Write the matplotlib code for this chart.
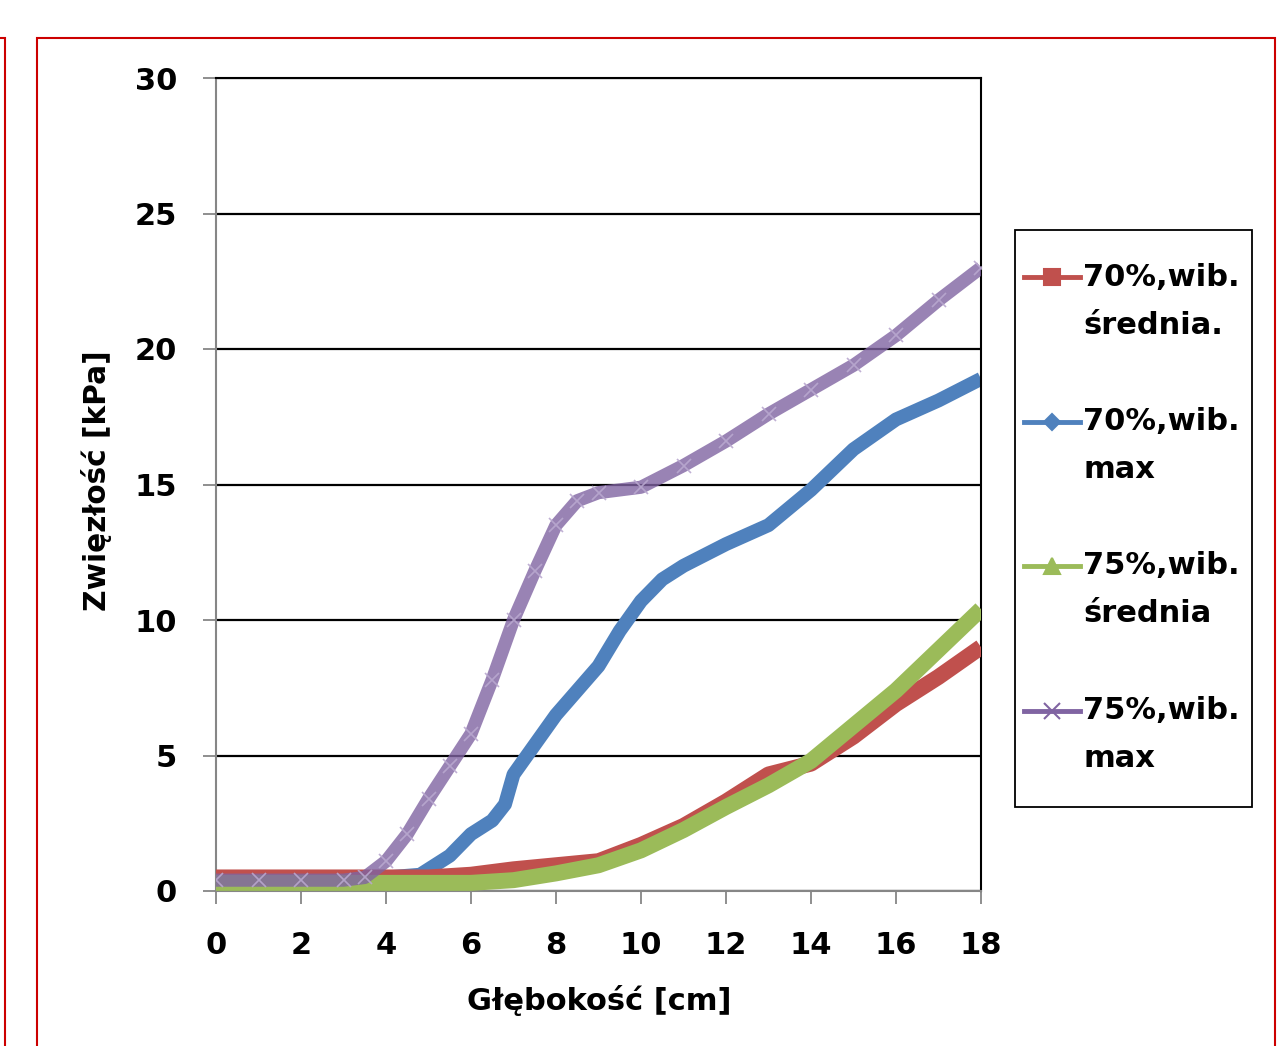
import matplotlib.pyplot as plt
from matplotlib.lines import Line2D
from matplotlib.patches import Rectangle

# === DONNÉES ===
depth_red = [0, 1, 2, 3, 4, 5, 6, 7, 8, 9, 10, 11, 12, 13, 14, 15, 16, 17, 18]
red = [0.5, 0.5, 0.5, 0.5, 0.5, 0.5, 0.6, 0.8, 0.95, 1.1, 1.7, 2.4, 3.3, 4.3, 4.7, 5.7, 6.9, 7.9, 9.0]

depth_blue = [0, 1, 2, 3, 4, 4.8, 5, 5.5, 6, 6.5, 6.8, 7, 7.5, 8, 8.5, 9, 9.5, 10, 10.5, 11, 12, 13, 14, 15, 16, 17, 18]
blue = [0.5, 0.5, 0.5, 0.5, 0.5, 0.6, 0.8, 1.3, 2.1, 2.6, 3.2, 4.3, 5.4, 6.5, 7.4, 8.3, 9.6, 10.7, 11.5, 12.0, 12.8, 13.5, 14.8, 16.3, 17.4, 18.1, 18.9]

depth_green = [0, 1, 2, 3, 4, 5, 6, 7, 8, 9, 10, 11, 12, 13, 14, 15, 16, 17, 18]
green = [0.3, 0.3, 0.3, 0.3, 0.3, 0.3, 0.3, 0.4, 0.65, 0.95, 1.5, 2.25, 3.1, 3.9, 4.8, 6.1, 7.4, 8.9, 10.4]

depth_purple = [0, 1, 2, 3, 3.5, 4, 4.5, 5, 5.5, 6, 6.5, 7, 7.5, 8, 8.5, 9, 10, 11, 12, 13, 14, 15, 16, 17, 18]
purple = [0.4, 0.4, 0.4, 0.4, 0.5, 1.1, 2.1, 3.4, 4.6, 5.8, 7.8, 10.0, 11.8, 13.5, 14.4, 14.7, 14.9, 15.7, 16.6, 17.6, 18.5, 19.4, 20.5, 21.8, 23.0]

labels = ["70%,wib.\nśrednia.", "70%,wib.\nmax", "75%,wib.\nśrednia", "75%,wib.\nmax"]
colors = ["#C0504D", "#4F81BD", "#9BBB59", "#8064A2"]
markers = ['s', 'D', '^', 'x']

plt.rcParams['font.family'] = ['DejaVu Sans']
plt.rcParams['font.weight'] = 'bold'

W, H = 1277, 1046
fig = plt.figure(figsize=(W / 100, H / 100), dpi=100)
ax = fig.add_axes([216/W, 1 - 891/H, 765/W, 813/H])

# === COURBES ===
ax.plot(depth_red, red, color=colors[0], lw=11.5, solid_capstyle='butt', zorder=3)
ax.plot(depth_blue, blue, color=colors[1], lw=10, solid_capstyle='butt', zorder=2)
ax.plot(depth_green, green, color=colors[2], lw=11.5, solid_capstyle='butt', zorder=4)
ax.plot(depth_purple, purple, color=colors[3], lw=9.5, alpha=0.8, solid_capstyle='butt', zorder=5)
ax.plot(depth_purple, purple, color='#B9A8CF', lw=0, marker='x', ms=10, mew=1.2, alpha=0.9, zorder=6)

# === AXES ===
ax.set_xlim(0, 18)
ax.set_ylim(0, 30)
ax.set_xticks(range(0, 19, 2))
ax.set_yticks(range(0, 31, 5))
ax.grid(axis='y', color='black', lw=1.6)
ax.set_axisbelow(True)
ax.tick_params(direction='out', length=9.5, width=1.3, color='#868686', labelsize=22)
ax.tick_params(axis='x', pad=19)
ax.tick_params(axis='y', pad=18.5)
for s in ['left', 'bottom']:
    ax.spines[s].set_color('#868686')
    ax.spines[s].set_linewidth(1.5)
for s in ['top', 'right']:
    ax.spines[s].set_color('black')
    ax.spines[s].set_linewidth(1.5)

fig.text(599/W, 1 - 1000/H, "Głębokość [cm]", ha='center', va='center', fontsize=22)
fig.text(97/W, 1 - 481/H, "Zwięzłość [kPa]", ha='center', va='center', rotation=90, fontsize=21.3)

# === LÉGENDE (dessinée à la main, marqueur sur la première ligne) ===
fig.patches.append(Rectangle((1015/W, 1 - 807/H), (1252 - 1015)/W, (807 - 230)/H,
                             transform=fig.transFigure, fill=False, edgecolor='black', lw=1.3))
for i, (lab, c, m) in enumerate(zip(labels, colors, markers)):
    y0 = 277 + i * 144.5
    fig.add_artist(Line2D([1024/W, 1080/W], [1 - y0/H, 1 - y0/H], transform=fig.transFigure,
                          color=c, lw=3.5))
    fig.add_artist(Line2D([1052/W], [1 - y0/H], transform=fig.transFigure, color=c,
                          marker=m, ms=11 if m != 'D' else 8, mew=1.5))
    for k, line in enumerate(lab.split("\n")):
        fig.text(1083/W, 1 - (y0 + 48 * k)/H, line, ha='left', va='center', fontsize=22)

# === CADRES ROUGES ===
fig.patches.append(Rectangle((37/W, -0.1), (1275 - 37)/W, 1.1 - 38/H,
                             transform=fig.transFigure, fill=False, edgecolor='#CC0000', lw=1.5))
fig.patches.append(Rectangle((-0.1, -0.1), 0.1 + 5/W, 1.1 - 38/H,
                             transform=fig.transFigure, fill=False, edgecolor='#CC0000', lw=1.5))

plt.savefig("out.png", dpi=100)
